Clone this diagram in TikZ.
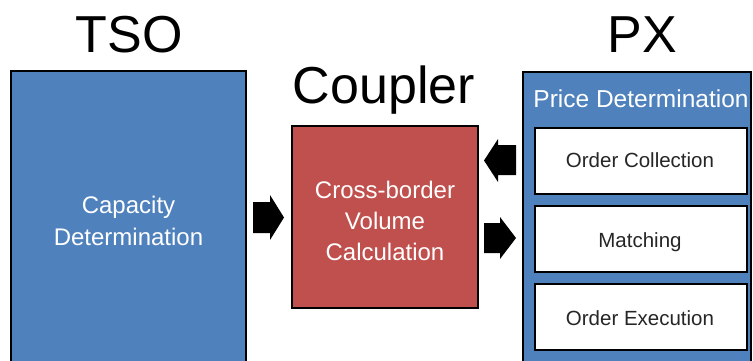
\documentclass[tikz,border=0pt]{standalone}
\usepackage{fontspec}
\setmainfont{Liberation Sans}
\definecolor{tsoblue}{HTML}{4F81BD}
\definecolor{coupred}{HTML}{C0504D}
\definecolor{darktext}{HTML}{262626}
\begin{document}
\begin{tikzpicture}[x=1pt,y=-1pt]
\tikzset{
  box/.style={draw=black, line width=1.3pt, anchor=north west, inner sep=0pt, outer sep=0pt},
  bigtitle/.style={font=\fontsize{52}{52}\selectfont, anchor=base, inner sep=0pt},
  boxlabel/.style={font=\fontsize{24}{31}\selectfont, text=white, align=center, anchor=base, inner sep=0pt},
  subbox/.style={draw=black, line width=2pt, fill=white, anchor=north west, minimum width=212pt, minimum height=66pt, inner sep=0pt},
  sublabel/.style={font=\fontsize{20.5}{24}\selectfont, text=darktext, anchor=base, inner sep=0pt},
  blockarrow/.style={fill=black, draw=none}
}
\useasboundingbox (0,0) rectangle (753,360);
\clip (0,0) rectangle (753,360);
% titles
\node[bigtitle] (tsotitle) at (129,52) {TSO};
\node[bigtitle] (couptitle) at (384,103) {Coupler};
\node[bigtitle] (pxtitle) at (642,52) {PX};
% TSO box
\node[box, fill=tsoblue, minimum width=235pt, minimum height=300pt] (tso) at (11,71) {};
\node[boxlabel, font=\fontsize{24}{32}\selectfont] (tsolabel) at (128.5,245) {Capacity\\Determination};
% Coupler box
\node[box, fill=coupred, minimum width=186pt, minimum height=182pt] (coupler) at (292,126) {};
\node[boxlabel] (couplabel) at (385,260) {Cross-border\\Volume\\Calculation};
% PX box
\node[box, fill=tsoblue, minimum width=228pt, minimum height=300pt] (px) at (523,72) {};
\node[font=\fontsize{24.5}{24.5}\selectfont, text=white, anchor=base, inner sep=0pt] (pxlabel) at (641,107) {Price Determination};
\node[subbox] (oc) at (534,127) {};
\node[sublabel] (oclabel) at (640,167) {Order Collection};
\node[subbox] (match) at (534,205) {};
\node[sublabel] (matchlabel) at (640,247) {Matching};
\node[subbox] (oe) at (534,283) {};
\node[sublabel] (oelabel) at (640,325) {Order Execution};
% block arrows
\fill[blockarrow] (253,202) -- (270,202) -- (270,195) -- (284,217.5) -- (270,240) -- (270,233) -- (253,233) -- cycle;
\fill[blockarrow] (516,145) -- (498,145) -- (498,139) -- (484,160.5) -- (498,182) -- (498,175) -- (516,175) -- cycle;
\fill[blockarrow] (484,223) -- (500,223) -- (500,217) -- (516,238) -- (500,259) -- (500,253) -- (484,253) -- cycle;
\end{tikzpicture}
\end{document}
